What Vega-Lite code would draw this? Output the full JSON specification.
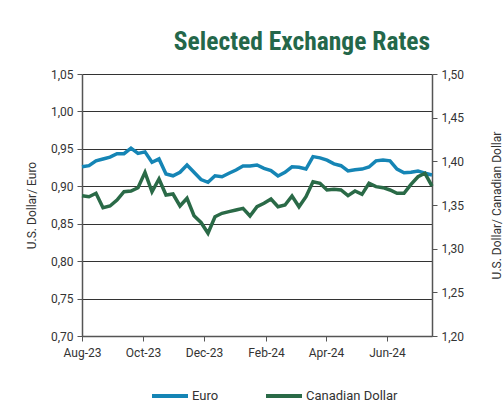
{
  "$schema": "https://vega.github.io/schema/vega-lite/v6.json",
  "width": 350,
  "height": 262,
  "autosize": {"type": "none"},
  "padding": {"left": 82, "top": 74, "right": 71, "bottom": 77},
  "background": "white",
  "config": {
    "locale": {"number": {"decimal": ",", "thousands": ".", "grouping": [3], "currency": ["", ""]}},
    "font": "Roboto",
    "view": {"stroke": null},
    "axis": {
      "labelFont": "Roboto", "labelFontSize": 12, "labelColor": "#333333",
      "titleFont": "Roboto", "titleFontSize": 12, "titleFontWeight": "normal", "titleColor": "#333333",
      "domainColor": "#555555", "domainWidth": 1.5, "tickColor": "#555555", "tickSize": 5,
      "gridColor": "#333333", "gridWidth": 1, "labelPadding": 4
    },
    "legend": {
      "symbolType": "stroke", "symbolSize": 1296, "symbolStrokeWidth": 4,
      "labelFont": "Roboto", "labelFontSize": 13, "labelColor": "#333333",
      "labelOffset": 2, "columnPadding": 39, "padding": 0
    }
  },
  "title": {"text": "Selected Exchange Rates", "anchor": "end", "frame": "group", "dx": -2, "font": "Roboto Condensed, Liberation Sans Narrow, Roboto", "fontSize": 25.5, "fontWeight": "bold", "color": "#24674a", "offset": 13},
  "data": {"values": [
    {"date": "2023-08-01", "euro": 0.926, "cad": 1.3607},
    {"date": "2023-08-08", "euro": 0.9275, "cad": 1.3595},
    {"date": "2023-08-15", "euro": 0.934, "cad": 1.3634},
    {"date": "2023-08-22", "euro": 0.9365, "cad": 1.3469},
    {"date": "2023-08-29", "euro": 0.939, "cad": 1.3489},
    {"date": "2023-09-05", "euro": 0.9435, "cad": 1.3557},
    {"date": "2023-09-12", "euro": 0.9435, "cad": 1.3652},
    {"date": "2023-09-19", "euro": 0.951, "cad": 1.366},
    {"date": "2023-09-26", "euro": 0.944, "cad": 1.3698},
    {"date": "2023-10-03", "euro": 0.946, "cad": 1.3874},
    {"date": "2023-10-10", "euro": 0.932, "cad": 1.3652},
    {"date": "2023-10-17", "euro": 0.9365, "cad": 1.3798},
    {"date": "2023-10-24", "euro": 0.9165, "cad": 1.3614},
    {"date": "2023-10-31", "euro": 0.914, "cad": 1.3626},
    {"date": "2023-11-07", "euro": 0.9187, "cad": 1.3489},
    {"date": "2023-11-14", "euro": 0.9285, "cad": 1.3577},
    {"date": "2023-11-21", "euro": 0.9187, "cad": 1.3377},
    {"date": "2023-11-28", "euro": 0.909, "cad": 1.330},
    {"date": "2023-12-05", "euro": 0.9053, "cad": 1.3176},
    {"date": "2023-12-12", "euro": 0.914, "cad": 1.3366},
    {"date": "2023-12-19", "euro": 0.9128, "cad": 1.3405},
    {"date": "2023-12-26", "euro": 0.9174, "cad": 1.3424},
    {"date": "2024-01-02", "euro": 0.9218, "cad": 1.3443},
    {"date": "2024-01-09", "euro": 0.9271, "cad": 1.3462},
    {"date": "2024-01-16", "euro": 0.9271, "cad": 1.3374},
    {"date": "2024-01-23", "euro": 0.9285, "cad": 1.348},
    {"date": "2024-01-30", "euro": 0.924, "cad": 1.3519},
    {"date": "2024-02-06", "euro": 0.921, "cad": 1.3569},
    {"date": "2024-02-13", "euro": 0.9138, "cad": 1.348},
    {"date": "2024-02-20", "euro": 0.9187, "cad": 1.35},
    {"date": "2024-02-27", "euro": 0.926, "cad": 1.3603},
    {"date": "2024-03-05", "euro": 0.9254, "cad": 1.348},
    {"date": "2024-03-12", "euro": 0.923, "cad": 1.3595},
    {"date": "2024-03-19", "euro": 0.9396, "cad": 1.3767},
    {"date": "2024-03-26", "euro": 0.938, "cad": 1.3748},
    {"date": "2024-04-02", "euro": 0.935, "cad": 1.3672},
    {"date": "2024-04-09", "euro": 0.93, "cad": 1.368},
    {"date": "2024-04-16", "euro": 0.9275, "cad": 1.3672},
    {"date": "2024-04-23", "euro": 0.9205, "cad": 1.3607},
    {"date": "2024-04-30", "euro": 0.9222, "cad": 1.366},
    {"date": "2024-05-07", "euro": 0.923, "cad": 1.3622},
    {"date": "2024-05-14", "euro": 0.9258, "cad": 1.3748},
    {"date": "2024-05-21", "euro": 0.934, "cad": 1.371},
    {"date": "2024-05-28", "euro": 0.935, "cad": 1.3698},
    {"date": "2024-06-04", "euro": 0.934, "cad": 1.3672},
    {"date": "2024-06-11", "euro": 0.923, "cad": 1.3634},
    {"date": "2024-06-18", "euro": 0.918, "cad": 1.3634},
    {"date": "2024-06-25", "euro": 0.9187, "cad": 1.3737},
    {"date": "2024-07-02", "euro": 0.9205, "cad": 1.3824},
    {"date": "2024-07-09", "euro": 0.9174, "cad": 1.3863},
    {"date": "2024-07-16", "euro": 0.915, "cad": 1.3717}
  ]},
  "encoding": {
    "x": {
      "field": "date", "type": "temporal",
      "scale": {"type": "utc", "domain": [{"year": 2023, "month": 8, "date": 1, "utc": true}, {"year": 2024, "month": 7, "date": 16, "utc": true}]},
      "axis": {
        "title": null, "grid": false, "format": "%b-%y", "labelFontSize": 12, "labelPadding": 6, "labelFlush": false, "labelOverlap": false,
        "values": [
          {"year": 2023, "month": 8, "date": 1, "utc": true},
          {"year": 2023, "month": 10, "date": 1, "utc": true},
          {"year": 2023, "month": 12, "date": 1, "utc": true},
          {"year": 2024, "month": 2, "date": 1, "utc": true},
          {"year": 2024, "month": 4, "date": 1, "utc": true},
          {"year": 2024, "month": 6, "date": 1, "utc": true}
        ]
      }
    }
  },
  "layer": [
    {
      "mark": {"type": "line", "strokeWidth": 3.5, "interpolate": "linear"},
      "encoding": {
        "y": {
          "field": "euro", "type": "quantitative",
          "scale": {"domain": [0.70, 1.05], "nice": false, "zero": false},
          "axis": {"orient": "left", "title": "U.S. Dollar/ Euro", "format": ".2f", "values": [0.70, 0.75, 0.80, 0.85, 0.90, 0.95, 1.00, 1.05], "grid": true, "titlePadding": 12}
        },
        "color": {"datum": "Euro", "type": "nominal", "scale": {"domain": ["Euro", "Canadian Dollar"], "range": ["#1585b5", "#2a6a47"]},
          "legend": {"orient": "none", "direction": "horizontal", "title": null, "legendX": 68, "legendY": 302}}
      }
    },
    {
      "mark": {"type": "line", "strokeWidth": 3.5, "interpolate": "linear"},
      "encoding": {
        "y": {
          "field": "cad", "type": "quantitative",
          "scale": {"domain": [1.20, 1.50], "nice": false, "zero": false},
          "axis": {"orient": "right", "title": "U.S. Dollar/ Canadian Dollar", "format": ".2f", "values": [1.20, 1.25, 1.30, 1.35, 1.40, 1.45, 1.50], "grid": false, "titleAngle": 270, "titlePadding": 40}
        },
        "color": {"datum": "Canadian Dollar", "type": "nominal"}
      }
    }
  ],
  "resolve": {"scale": {"y": "independent"}}
}
